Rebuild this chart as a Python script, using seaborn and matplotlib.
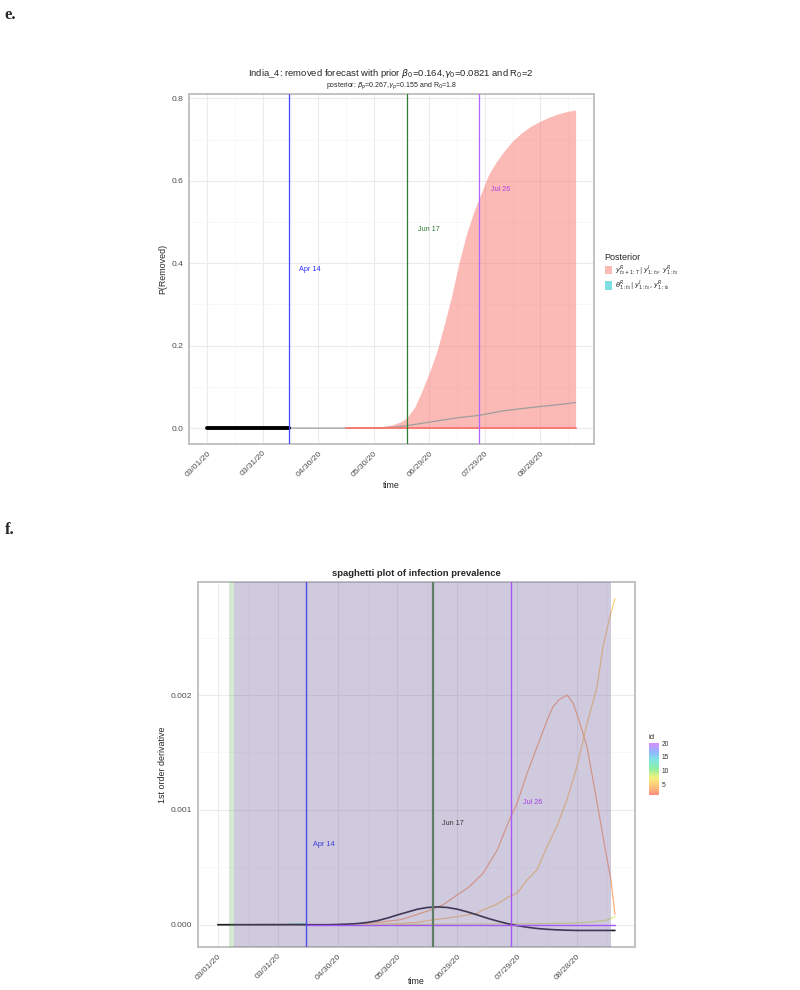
import numpy as np
import pandas as pd
import matplotlib
matplotlib.use('Agg')
import matplotlib.pyplot as plt
import matplotlib.dates as mdates
from matplotlib.colors import LinearSegmentedColormap, Normalize
from matplotlib.cm import ScalarMappable
from matplotlib.patches import Patch
from matplotlib.ticker import MultipleLocator
import seaborn as sns

START = pd.Timestamp('2020-03-01')

# ---- shared: intervention markers (days after 03/01/20) ----
event_labels = ['Apr 14', 'Jun 17', 'Jul 26']
event_days = [44, 108, 147]
tick_days = [0, 30, 60, 90, 120, 150, 180]

# ---- panel e: removed forecast ----
obs_days = list(range(0, 45))
obs_removed = [0.0] * 45
ribbon_days = [44, 60, 70, 80, 85, 90, 95, 100, 105, 108, 112, 116, 120, 124, 128,
               132, 136, 140, 144, 148, 152, 156, 160, 165, 170, 175, 180, 185, 190, 195, 199]
ribbon_upper = [0.0, 0.0002, 0.0005, 0.001, 0.0015, 0.0025, 0.004, 0.008, 0.016, 0.026, 0.05,
                0.09, 0.135, 0.185, 0.25, 0.32, 0.40, 0.47, 0.525, 0.57, 0.615, 0.645, 0.67,
                0.697, 0.717, 0.733, 0.745, 0.755, 0.763, 0.769, 0.772]
median_days = [44, 80, 90, 100, 108, 115, 125, 135, 147, 160, 175, 190, 199]
median_removed = [0.0, 0.0, 0.0005, 0.002, 0.006, 0.011, 0.018, 0.025, 0.031, 0.042, 0.05, 0.057, 0.062]
lower_days = [75, 199]
lower_removed = [0.0, 0.0]
e_label_days = [55.6, 119.5, 158.3]
e_label_y = [0.385, 0.483, 0.58]

# ---- panel f: spaghetti of 1st order derivative ----
mean_days = [0, 55, 60, 65, 70, 75, 80, 85, 90, 95, 100, 105, 110, 115, 120, 125, 130,
             135, 140, 145, 150, 155, 160, 165, 170, 175, 180, 190, 199]
mean_deriv = [0.0, 0.0, 0.000002, 0.000005, 0.00001, 0.00002, 0.000035, 0.000058, 0.000085,
              0.00011, 0.000135, 0.00015, 0.000155, 0.00015, 0.000135, 0.000112, 0.000085,
              0.000057, 0.000032, 0.00001, -0.000008, -0.000022, -0.000033, -0.00004,
              -0.000045, -0.000048, -0.00005, -0.00005, -0.00005]

id3_days = [0, 44, 60, 75, 85, 92, 100, 107, 113, 120, 126, 133, 140, 146, 150, 155, 160,
            165, 168, 171, 175, 178, 181, 185, 188, 191, 194.5, 197, 199]
id3_deriv = [0.0, 0.0, 0.000001, 0.000009, 0.00003, 0.000045, 0.00009, 0.00013, 0.000175,
             0.00026, 0.00033, 0.00045, 0.00065, 0.00091, 0.00106, 0.00132, 0.00155, 0.00178,
             0.0019, 0.00196, 0.002, 0.00193, 0.00178, 0.00155, 0.00126, 0.00097, 0.00062,
             0.00039, 0.00009]
id5_days = [0, 44, 75, 90, 100, 107, 120, 130, 133, 140, 146, 150, 155, 160, 165, 170, 175,
            180, 185, 190, 193, 196, 199]
id5_deriv = [0.0, 0.0, 0.0, 0.00001, 0.00002, 0.00004, 0.00007, 0.0001, 0.00013, 0.00018,
             0.000246, 0.000275, 0.00039, 0.00048, 0.00068, 0.00086, 0.00109, 0.00138,
             0.00175, 0.00207, 0.00242, 0.00265, 0.00284]
id8_days = [44, 100, 150, 175, 185, 190, 195, 199]
id8_deriv = [0.0, 0.000003, 0.000008, 0.000012, 0.00002, 0.00003, 0.00004, 0.00007]
early_days = [0, 8, 15, 22, 30, 36, 42, 44]
id1_deriv = [0.0, 0.000002, -0.000001, 0.000003, 0.000001, 0.000004, 0.000008, 0.000003]
id10_deriv = [0.0, 0.000001, 0.000003, 0.0, 0.000002, 0.000005, 0.00001, 0.000004]
id14_deriv = [0.0, -0.000001, 0.000001, 0.000002, 0.000003, 0.000002, 0.000009, 0.000002]
id20_days = [44, 199]
id20_deriv = [0.0, 0.0]
f_label_days = [53.2, 118.0, 157.6]
f_label_y = [0.0007, 0.00088, 0.00106]
green_span = [5.5, 8]
purple_span = [8, 197]

id_colors = ['#FF8C80', '#FFC67A', '#F5F07E', '#8FF0A0', '#80E6E2', '#90B6FF', '#D88CFF']


def to_dates(days):
    return START + pd.to_timedelta(np.asarray(days, dtype=float), unit='D')


def to_num(days):
    return mdates.date2num(to_dates(days))


def style_axes(ax, xlabel_y):
    ax.set_facecolor('white')
    for s in ax.spines.values():
        s.set_color('#BDBDBD')
        s.set_linewidth(1.3)
    ax.set_axisbelow(True)
    ax.grid(which='major', color='#EBEBEB', lw=0.8)
    ax.grid(which='minor', color='#F5F5F5', lw=0.5)
    ax.tick_params(which='major', length=2.5, width=0.6, color='#333333',
                   labelsize=6.1, labelcolor='#4D4D4D', pad=1.5)
    ax.tick_params(which='minor', length=0)
    ticks = to_dates(tick_days)
    ax.set_xticks(ticks)
    ax.set_xticklabels([t.strftime('%m/%d/%y') for t in ticks], rotation=45,
                       ha='right', rotation_mode='anchor')
    ax.set_xticks(to_dates([d + 15 for d in tick_days]), minor=True)
    lo, hi = -0.05 * 199, 199 + 0.05 * 199
    ax.set_xlim(to_num([lo])[0], to_num([hi])[0])
    ax.set_xlabel('time', fontsize=6.4)
    ax.xaxis.set_label_coords(0.5, xlabel_y)


sns.set_theme(style='white')
plt.rcParams['font.family'] = ['Liberation Sans', 'DejaVu Sans']
plt.rcParams['mathtext.fontset'] = 'dejavusans'

fig = plt.figure(figsize=(8, 9.9), dpi=100)

# ================= panel e =================
ax_e = fig.add_axes([0.236, 0.5515, 0.5065, 0.3535])
style_axes(ax_e, -0.107)
ax_e.fill_between(to_dates(ribbon_days), 0, ribbon_upper, color='#F8766D', alpha=0.5, lw=0, zorder=2)
sns.lineplot(x=to_dates(median_days), y=median_removed, ax=ax_e, color='#9E9E9E', lw=0.9, zorder=3)
sns.lineplot(x=to_dates(lower_days), y=lower_removed, ax=ax_e, color='#F8766D', lw=1.3, zorder=3)
sns.lineplot(x=to_dates(obs_days), y=obs_removed, ax=ax_e, color='black', lw=2.8, zorder=4)
e_line_colors = ['#4545FF', '#2E7D32', '#B266FF']
e_text_colors = ['#2B2BFF', '#2E7D32', '#B040E0']
for d, c in zip(event_days, e_line_colors):
    ax_e.axvline(to_num([d])[0], color=c, lw=0.9, zorder=5)
for lab, d, y, c in zip(event_labels, e_label_days, e_label_y, e_text_colors):
    ax_e.text(to_num([d])[0], y, lab, color=c, fontsize=5.2, ha='center', va='center', zorder=6)
ax_e.set_ylim(-0.05 * 0.772, 0.772 * 1.05)
ax_e.yaxis.set_major_locator(MultipleLocator(0.2))
ax_e.yaxis.set_minor_locator(MultipleLocator(0.1))
ax_e.yaxis.set_major_formatter(matplotlib.ticker.FormatStrFormatter('%.1f'))
ax_e.set_ylabel('P(Removed)', fontsize=6.4, labelpad=3)

cx = 0.236 + 0.5065 / 2
fig.text(cx, 1 - 73 / 990, r'India_4: removed forecast with prior $\beta_0$=0.164,$\gamma_0$=0.0821 and R$_0$=2',
         ha='center', va='center', fontsize=6.8)
fig.text(cx, 1 - 86 / 990, r'posterior: $\beta_p$=0.267,$\gamma_p$=0.155 and R$_0$=1.8',
         ha='center', va='center', fontsize=5)

handles = [Patch(facecolor='#F8766D', alpha=0.5, lw=0), Patch(facecolor='#00BFC4', alpha=0.5, lw=0)]
labels = [r'$y^R_{t_0+1:T}\,|\,y^I_{1:t_0},\,y^R_{1:t_0}$',
          r'$\theta^R_{1:t_0}\,|\,y^I_{1:t_0},\,y^R_{1:t_0}$']
leg = fig.legend(handles, labels, title='Posterior', loc='upper left',
                 bbox_to_anchor=(0.748, 1 - 247 / 990), frameon=False, fontsize=4.9,
                 title_fontsize=6.5, handlelength=1.1, handleheight=1.6,
                 handletextpad=0.5, labelspacing=0.15, alignment='left')

# ================= panel f =================
ax_f = fig.add_axes([0.2475, 0.0434, 0.546, 0.3687])
style_axes(ax_f, -0.082)

cmap = LinearSegmentedColormap.from_list('ids', id_colors)
norm = Normalize(vmin=1, vmax=20)

spag = pd.concat([
    pd.DataFrame({'day': early_days, 'deriv': id1_deriv, 'id': 1}),
    pd.DataFrame({'day': id3_days, 'deriv': id3_deriv, 'id': 3}),
    pd.DataFrame({'day': id5_days, 'deriv': id5_deriv, 'id': 5}),
    pd.DataFrame({'day': id8_days, 'deriv': id8_deriv, 'id': 8}),
    pd.DataFrame({'day': early_days, 'deriv': id10_deriv, 'id': 10}),
    pd.DataFrame({'day': early_days, 'deriv': id14_deriv, 'id': 14}),
], ignore_index=True)
spag['date'] = to_dates(spag['day'])
palette = {i: cmap(norm(i)) for i in spag['id'].unique()}
sns.lineplot(data=spag, x='date', y='deriv', hue='id', palette=palette, legend=False,
             estimator=None, lw=0.9, ax=ax_f, zorder=2)
sns.lineplot(x=to_dates(mean_days), y=mean_deriv, ax=ax_f, color='#1E1E2C', lw=1.2, zorder=2)

ax_f.axvspan(to_num([green_span[0]])[0], to_num([green_span[1]])[0], color='#5DA85A', alpha=0.25, lw=0, zorder=3)
ax_f.axvspan(to_num([purple_span[0]])[0], to_num([purple_span[1]])[0], color='#7B68A6', alpha=0.35, lw=0, zorder=3)

sns.lineplot(x=to_dates(id20_days), y=id20_deriv, ax=ax_f, color='#A855F7', lw=1.0, zorder=4)
f_line_colors = ['#4B4BE6', '#5E7F66', '#A855F7']
f_line_widths = [1.0, 1.6, 1.0]
f_text_colors = ['#3B3BD9', '#3A3A3A', '#A040E0']
for d, c, w in zip(event_days, f_line_colors, f_line_widths):
    ax_f.axvline(to_num([d])[0], color=c, lw=w, zorder=5)
for lab, d, y, c in zip(event_labels, f_label_days, f_label_y, f_text_colors):
    ax_f.text(to_num([d])[0], y, lab, color=c, fontsize=5.2, ha='center', va='center', zorder=6)

ymax = max(id5_deriv)
ymin = min(mean_deriv)
pad = 0.05 * (ymax - ymin)
ax_f.set_ylim(ymin - pad, ymax + pad)
ax_f.yaxis.set_major_locator(MultipleLocator(0.001))
ax_f.yaxis.set_minor_locator(MultipleLocator(0.0005))
ax_f.yaxis.set_major_formatter(matplotlib.ticker.FormatStrFormatter('%.3f'))
ax_f.set_ylabel('1st order derivative', fontsize=6.4, labelpad=3)
ax_f.set_title('spaghetti plot of infection prevalence', fontsize=6.8, fontweight='bold', pad=4)

cax = fig.add_axes([0.811, 1 - 795 / 990, 0.0125, 52 / 990])
cb = fig.colorbar(ScalarMappable(norm=norm, cmap=cmap), cax=cax)
cb.set_ticks([5, 10, 15, 20])
cb.outline.set_visible(False)
cax.tick_params(labelsize=4.8, length=0, pad=2, labelcolor='#333333')
cax.set_title('id', fontsize=5.5, loc='left', pad=3)

# panel tags
fig.text(0.006, 1 - 15 / 990, 'e.', fontsize=12, fontweight='bold', family='Liberation Serif', va='center')
fig.text(0.006, 1 - 530 / 990, 'f.', fontsize=12, fontweight='bold', family='Liberation Serif', va='center')

fig.savefig('out.png', dpi=100)
